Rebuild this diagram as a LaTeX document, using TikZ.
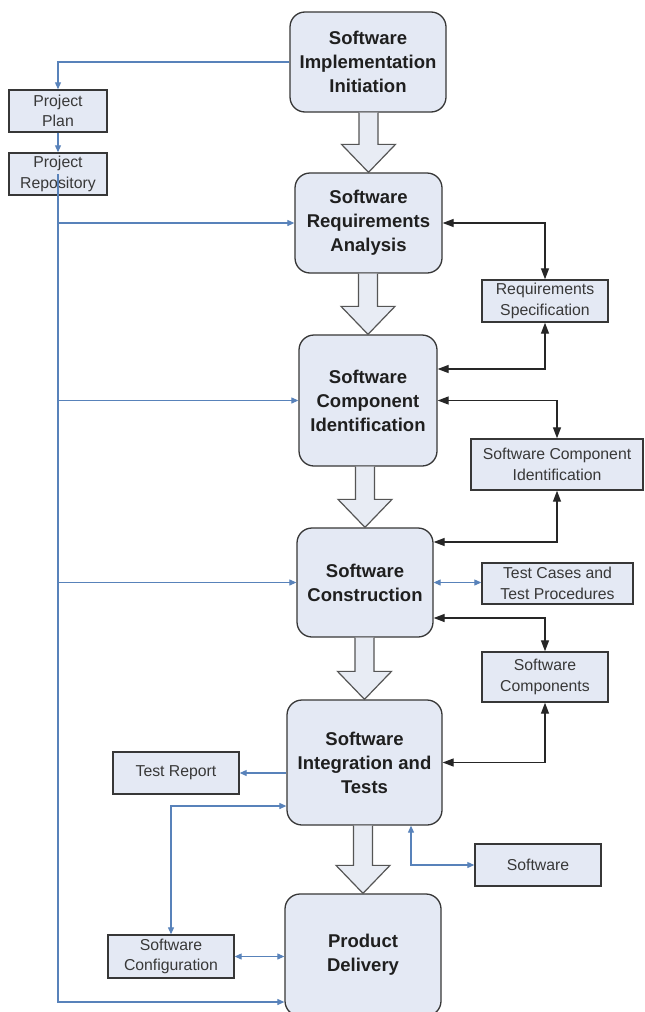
\documentclass[tikz,border=0pt]{standalone}
\usepackage{fontspec}
\setmainfont{Liberation Sans}
\usetikzlibrary{arrows.meta,calc}
\definecolor{boxfill}{RGB}{228,233,244}
\definecolor{boxdraw}{RGB}{55,55,55}
\definecolor{flowblue}{RGB}{88,130,186}
\definecolor{fatfill}{RGB}{232,236,244}
\definecolor{fatdraw}{RGB}{85,85,85}
\newcommand{\fatdown}[2]{%
  \draw[fat] let \p1=(#1.south), \p2=(#2.north) in
    (\x2-9.5pt,\y1) -- (\x2-9.5pt,\y2+28pt) -- (\x2-27pt,\y2+28pt) -- (\x2,\y2)
    -- (\x2+27pt,\y2+28pt) -- (\x2+9.5pt,\y2+28pt) -- (\x2+9.5pt,\y1);}
\begin{document}
\begin{tikzpicture}[x=1pt,y=-1pt,
  phase/.style={draw=boxdraw, fill=boxfill, line width=1.3pt, rounded corners=15pt,
    align=center, inner sep=0pt, font=\fontsize{18.5}{24}\selectfont\bfseries, text=black!88},
  doc/.style={draw=boxdraw, fill=boxfill, line width=1.4pt, align=center, inner sep=0pt,
    font=\fontsize{15.8}{20.5}\selectfont, text=black!78},
  fat/.style={draw=fatdraw, fill=fatfill, line width=1.2pt, line join=miter},
  blarrow/.style={flowblue, line width=1.1pt, -{Triangle[length=7pt,width=6pt]}},
  blboth/.style={flowblue, line width=1.1pt, {Triangle[length=7pt,width=6pt]}-{Triangle[length=7pt,width=6pt]}},
  bkboth/.style={black!85, line width=1.3pt, {Triangle[length=11pt,width=8pt]}-{Triangle[length=11pt,width=8pt]}}
]
\useasboundingbox (0,0) rectangle (645,1012);
\fill[white] (0,0) rectangle (645,1012);
\clip (0,0) rectangle (645,1012);

% main phases
\node[phase, minimum width=156pt, minimum height=100pt] (init) at (368,62) {Software\\Implementation\\Initiation};
\node[phase, minimum width=147pt, minimum height=100pt] (req) at (368.5,223) {Software\\Requirements\\Analysis};
\node[phase, minimum width=138pt, minimum height=131pt] (comp) at (368,400.5) {Software\\Component\\Identification};
\node[phase, minimum width=136pt, minimum height=109pt] (cons) at (365,582.5) {Software\\Construction};
\node[phase, minimum width=155pt, minimum height=125pt] (int) at (364.5,762.5) {Software\\Integration and\\Tests};
\node[phase, minimum width=156pt, minimum height=122pt] (pd) at (363,955) {Product\\Delivery};

% documents
\node[doc, minimum width=98pt, minimum height=42pt] (plan) at (58,111) {Project\\Plan};
\node[doc, minimum width=98pt, minimum height=42pt] (repo) at (58,174) {Project\\Repository};
\node[doc, minimum width=126pt, minimum height=42pt] (rspec) at (545,301) {Requirements\\Specification};
\node[doc, minimum width=172pt, minimum height=51pt] (swci) at (557,464.5) {Software Component\\Identification};
\node[doc, minimum width=151pt, minimum height=41pt] (tc) at (557.5,583.5) {Test Cases and\\Test Procedures};
\node[doc, minimum width=126pt, minimum height=50pt] (swc) at (545,677) {Software\\Components};
\node[doc, minimum width=126pt, minimum height=42pt] (trep) at (176,773) {Test Report};
\node[doc, minimum width=126pt, minimum height=42pt] (sw) at (538,865) {Software};
\node[doc, minimum width=126pt, minimum height=43pt] (cfg) at (171,956.5) {Software\\Configuration};

% hollow flow arrows
\fatdown{init}{req}
\fatdown{req}{comp}
\fatdown{comp}{cons}
\fatdown{cons}{int}
\fatdown{int}{pd}

% blue connectors
\draw[blarrow] (init.west) -| (plan.north);
\draw[blarrow] (plan.south) -- (repo.north);
\draw[blarrow] (repo.center) |- ([yshift=-47pt]pd.west);
\draw[blarrow] (repo.south |- req.west) -- (req.west);
\draw[blarrow] (repo.south |- comp.west) -- (comp.west);
\draw[blarrow] (repo.south |- cons.west) -- (cons.west);
\draw[blboth] (cons.east) -- (cons.east -| tc.west);
\draw[blarrow] (int.west |- trep.east) -- (trep.east);
\draw[blboth] ([yshift=-43.5pt]int.west) -| (cfg.north);
\draw[blboth] (cfg.east) -- (cfg.east -| pd.west);
\draw[blboth] (sw.west) -| ([xshift=46.5pt]int.south);

% black connectors
\draw[bkboth] (req.east) -| (rspec.north);
\draw[bkboth] (rspec.south) |- ([yshift=31.5pt]comp.east);
\draw[bkboth] (comp.east) -| (swci.north);
\draw[bkboth] (swci.south) |- ([yshift=40.5pt]cons.east);
\draw[bkboth] ([yshift=-35.5pt]cons.east) -| (swc.north);
\draw[bkboth] (swc.south) |- (int.east);
\end{tikzpicture}
\end{document}
